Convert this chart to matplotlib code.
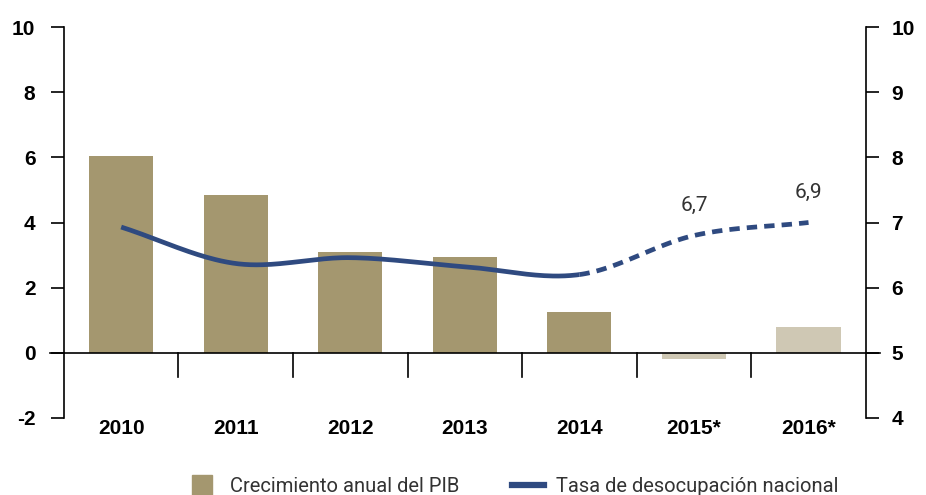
import numpy as np
import matplotlib.pyplot as plt
from matplotlib.lines import Line2D

# Data
years = ["2010", "2011", "2012", "2013", "2014", "2015*", "2016*"]
gdp_growth = [6.05, 4.85, 3.1, 2.95, 1.25, -0.2, 0.8]
projected = [False, False, False, False, False, True, True]
unemployment = [6.93, 6.37, 6.46, 6.32, 6.2, 6.8, 7.0]
unemp_labels = {5: "6,7", 6: "6,9"}

BAR_COLOR = "#a4976f"
BAR_LIGHT = "#cfc8b4"
LINE_COLOR = "#2f4a80"


def smooth(x, y, n=40):
    """Cubic Hermite curve through the points (just for drawing)."""
    x = np.asarray(x, float)
    y = np.asarray(y, float)
    m = np.gradient(y, x)
    xs, ys = [], []
    for i in range(len(x) - 1):
        h = x[i + 1] - x[i]
        t = np.linspace(0, 1, n)
        h00 = 2 * t**3 - 3 * t**2 + 1
        h10 = t**3 - 2 * t**2 + t
        h01 = -2 * t**3 + 3 * t**2
        h11 = t**3 - t**2
        xs.append(x[i] + t * h)
        ys.append(h00 * y[i] + h10 * h * m[i] + h01 * y[i + 1] + h11 * h * m[i + 1])
    return np.concatenate(xs), np.concatenate(ys)


plt.rcParams["font.family"] = ["Liberation Sans", "DejaVu Sans"]
plt.rcParams["axes.unicode_minus"] = False
LIGHT = ["Roboto", "Liberation Sans", "DejaVu Sans"]

fig = plt.figure(figsize=(9.26, 4.95), dpi=100)
ax = fig.add_axes([0.069, 0.156, 0.866, 0.789])
ax2 = ax.twinx()

x = np.arange(len(years))
colors = [BAR_LIGHT if p else BAR_COLOR for p in projected]
ax.bar(x, gdp_growth, width=0.56, color=colors, zorder=2)

ax.set_xlim(-0.5, len(years) - 0.5)
ax.set_ylim(-2, 10)
ax.set_yticks(range(-2, 11, 2))
ax2.set_ylim(4, 10)
ax2.set_yticks(range(4, 11))

# zero line and category separators
ax.axhline(0, color="black", lw=1.2, zorder=3)
for b in x[:-1] + 0.5:
    ax.plot([b, b], [0, -0.75], color="black", lw=1.2, clip_on=False, zorder=3)
ax.plot([-0.62, -0.5], [0, 0], color="black", lw=1.2, clip_on=False)
ax.plot([len(years) - 0.5, len(years) - 0.38], [0, 0], color="black", lw=1.2, clip_on=False)

ax.set_xticks([])
for i, yr in enumerate(years):
    ax.text(i, -2.32, yr, ha="center", va="center", fontsize=15, fontweight="bold")

for a in (ax, ax2):
    a.spines["top"].set_visible(False)
    a.spines["bottom"].set_visible(False)
    a.tick_params(axis="y", length=9.5, width=1.2, labelsize=15)
    for lbl in a.get_yticklabels():
        lbl.set_fontweight("bold")
ax.tick_params(axis="y", pad=11)
ax2.tick_params(axis="y", pad=9)
ax.spines["left"].set_linewidth(1.2)
ax2.spines["right"].set_linewidth(1.2)
ax2.spines["left"].set_visible(False)
ax.spines["right"].set_visible(False)

# unemployment line: solid until 2014, dashed for projections
xs, ys = smooth(x, unemployment)
split = 4
mask_solid = xs <= split
mask_dash = xs >= split
ax2.plot(xs[mask_solid], ys[mask_solid], color=LINE_COLOR, lw=3.4,
         solid_capstyle="butt", zorder=4)
ax2.plot(xs[mask_dash], ys[mask_dash], color=LINE_COLOR, lw=3.4,
         dashes=(2.2, 1.5), zorder=4)

for i, txt in unemp_labels.items():
    ax2.text(i, unemployment[i] + 0.46, txt, ha="center", va="center",
             fontsize=15, family=LIGHT, color="#333333")

handles = [Line2D([], [], marker="s", markersize=15, linestyle="none",
                  color=BAR_COLOR),
           Line2D([0], [0], color=LINE_COLOR, lw=4.5)]
leg = fig.legend(handles, ["Crecimiento anual del PIB", "Tasa de desocupación nacional"],
                 loc="center", bbox_to_anchor=(0.553, 0.018), ncol=2, frameon=False,
                 handlelength=1.6, handletextpad=0.6, columnspacing=2.6,
                 prop={"family": LIGHT, "size": 14.5})
for t in leg.get_texts():
    t.set_color("#333333")

fig.savefig("out.png", dpi=100)
